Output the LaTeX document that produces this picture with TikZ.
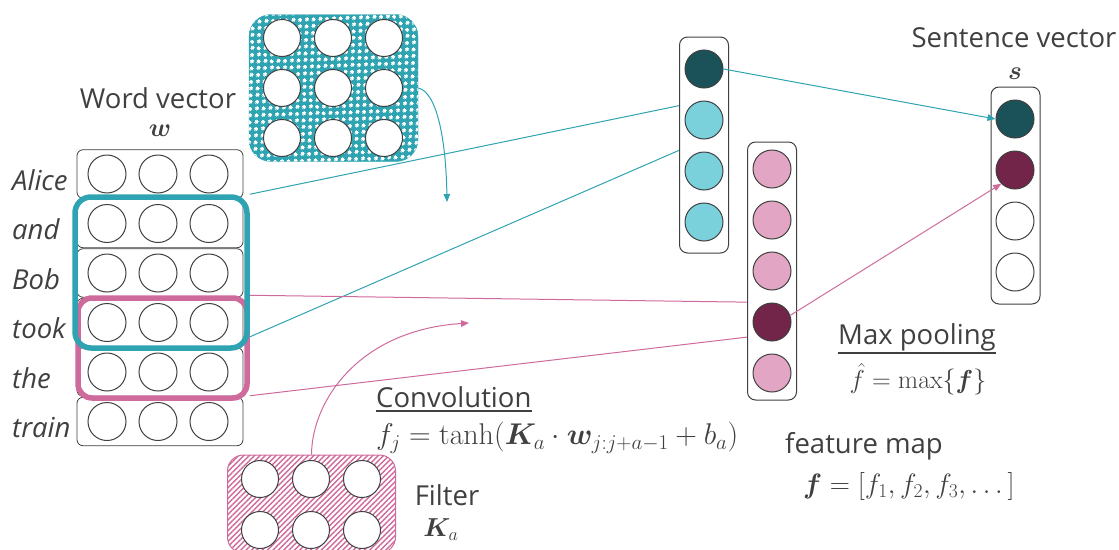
\RequirePackage{fix-cm}
\documentclass[tikz,border=0pt]{standalone}
\usepackage[no-math]{fontspec}
\setmainfont{Open Sans}
\usepackage{amsmath,bm}
\usetikzlibrary{patterns.meta,arrows.meta,calc}

\definecolor{tealline}{HTML}{2EA3B1}
\definecolor{tealdark}{HTML}{1B5259}
\definecolor{teallight}{HTML}{7AD1DC}
\definecolor{pinkline}{HTML}{CF6A9C}
\definecolor{pinklight}{HTML}{E2A6C4}
\definecolor{pinkdark}{HTML}{722548}
\definecolor{edge}{HTML}{404040}
\definecolor{txt}{HTML}{404040}

% diagonal dot lattice used for the word-window filter
\tikzdeclarepattern{
  name=diamonddots,
  type=uncolored,
  bottom left={(0pt,0pt)},
  top right={(9.4pt,9.4pt)},
  tile size={(9.4pt,9.4pt)},
  tile transformation={rotate=45},
  code={
    \fill (2.35pt,2.35pt) circle (2.05pt);
    \fill (7.05pt,7.05pt) circle (2.05pt);
  }
}

\pgfdeclarelayer{background}
\pgfsetlayers{background,main}

\begin{document}
\begin{tikzpicture}[x=1pt,y=-1pt,
  cell/.style={circle, draw=edge, line width=1pt, fill=white, minimum size=38pt, inner sep=0pt},
  rowbox/.style={draw=edge, line width=0.8pt, rounded corners=6pt, fill=white,
                 minimum width=166pt, minimum height=48.5pt, inner sep=0pt},
  colbox/.style={draw=edge, line width=1pt, rounded corners=8pt, fill=white,
                 minimum width=49pt, inner sep=0pt},
  txtlbl/.style={text=txt, font=\fontsize{27.5}{32}\selectfont, inner sep=0pt},
  word/.style={txtlbl, font=\fontsize{27.5}{32}\selectfont\itshape, anchor=base west},
  mathlbl/.style={text=txt, font=\fontsize{26}{30}\selectfont, inner sep=0pt},
  uline/.style={draw=txt, line width=1.2pt},
  tealconn/.style={draw=tealline, line width=1pt},
  pinkconn/.style={draw=pinkline, line width=1pt},
  tip/.style={-{Triangle[length=8pt,width=6.5pt]}},
]
\useasboundingbox (0,0) rectangle (1119,549);

% ---------------- word vectors ----------------
\node[txtlbl] (wvtitle) at (158,98) {Word vector};
\node[mathlbl] (wsym) at (160,131) {$\bm{w}$};
\foreach \i/\w in {0/Alice,1/and,2/Bob,3/took,4/the,5/train} {
  \pgfmathsetmacro\yc{174+49.5*\i}
  \node[rowbox] (r\i) at (160,\yc) {};
  \node[cell] (r\i a) at (107,\yc) {};
  \node[cell] (r\i b) at (158,\yc) {};
  \node[cell] (r\i c) at (209,\yc) {};
  \node[word] (w\i) at (12,\yc+16) {\w};
}

% convolution windows
\node[draw=pinkline, line width=5.5pt, rounded corners=14pt, minimum width=169pt,
      minimum height=100pt, inner sep=0pt] (pinkwin) at (162.5,348) {};
\node[draw=tealline, line width=5.5pt, rounded corners=16pt, minimum width=172pt,
      minimum height=151pt, inner sep=0pt] (tealwin) at (161,272.5) {};

% ---------------- filters ----------------
\node[draw=tealline, fill=tealline, postaction={pattern=diamonddots, pattern color=white},
      rounded corners=22pt, minimum width=169pt, minimum height=147pt, inner sep=0pt]
      (tfilt) at (333.5,88) {};
\foreach \r/\yy in {0/38,1/88,2/138}
  \foreach \c/\xx in {0/282,1/333,2/384}
    \node[cell, minimum size=37pt] (tf\r\c) at (\xx,\yy) {};

\node[draw=pinkline, line width=1pt, fill=white,
      postaction={pattern={Lines[angle=45,distance=3.8pt,line width=1.4pt]}, pattern color=pinkline},
      rounded corners=16pt, minimum width=168pt, minimum height=98pt, inner sep=0pt]
      (pfilt) at (311.5,504) {};
\foreach \r/\yy in {0/479,1/530}
  \foreach \c/\xx in {0/260,1/311,2/362}
    \node[cell, minimum size=37pt] (pf\r\c) at (\xx,\yy) {};

\node[txtlbl] (filtlbl) at (447,495) {Filter};
\node[mathlbl] (ksym) at (441,530) {$\bm{K}_a$};

% ---------------- convolution outputs ----------------
\node[colbox, minimum height=216pt] (cbox) at (704,145) {};
\node[cell, fill=tealdark] (c1) at (704,69) {};
\node[cell, fill=teallight] (c2) at (704,120) {};
\node[cell, fill=teallight] (c3) at (704,171) {};
\node[cell, fill=teallight] (c4) at (704,222) {};

\node[colbox, minimum height=258pt] (fbox) at (772,271) {};
\node[cell, fill=pinklight] (f1) at (772,169) {};
\node[cell, fill=pinklight] (f2) at (772,220) {};
\node[cell, fill=pinklight] (f3) at (772,271) {};
\node[cell, fill=pinkdark] (f4) at (772,322) {};
\node[cell, fill=pinklight] (f5) at (772,373) {};

% ---------------- sentence vector ----------------
\node[txtlbl] (svtitle) at (1014,38) {Sentence vector};
\node[mathlbl] (ssym) at (1015,74) {$\bm{s}$};
\node[colbox, minimum height=217pt] (sbox) at (1015.5,195.5) {};
\node[cell, fill=tealdark] (s1) at (1015,119) {};
\node[cell, fill=pinkdark] (s2) at (1015,170) {};
\node[cell] (s3) at (1015,221) {};
\node[cell] (s4) at (1015,272) {};

% ---------------- formulas ----------------
\node[txtlbl, anchor=base west] (convlbl) at (376,407) {Convolution};
\draw[uline] ($(convlbl.base west)+(0,4)$) -- ($(convlbl.base east)+(0,4)$);
\node[mathlbl, anchor=west, font=\fontsize{30}{35}\selectfont] (convf) at (376,438)
  {$f_j = \tanh(\bm{K}_a \cdot \bm{w}_{j:j+a-1} + b_a)$};
\node[txtlbl, anchor=base west] (poollbl) at (838,344) {Max pooling};
\draw[uline] ($(poollbl.base west)+(0,9)$) -- ($(poollbl.base east)+(0,9)$);
\node[mathlbl] (poolf) at (918,379) {$\hat{f} = \max\{\bm{f}\}$};
\node[txtlbl, anchor=west] (fmlbl) at (785,446) {feature map};
\node[mathlbl, anchor=west, font=\fontsize{28}{33}\selectfont] (fmf) at (803,486)
  {$\bm{f} = [f_1, f_2, f_3, \dots]$};

% ---------------- connectors ----------------
\coordinate (tend) at (447,202);
\coordinate (pend) at (469,323);
\begin{pgfonlayer}{background}
  \draw[tealconn] (tealwin.north east) -- (c2.north);
  \draw[tealconn] ($(tealwin.south east)+(-2,-13)$) -- (c2.south);
  \draw[pinkconn] (pinkwin.north east) -- (f4.north);
  \draw[pinkconn] ($(pinkwin.south east)+(0,-5)$) -- (f4.south west);
\end{pgfonlayer}
\draw[tealconn, tip] (tfilt.east) .. controls (437,92) and (446,140) .. (tend);
\draw[pinkconn, tip] (pfilt.north) .. controls (312,400) and (360,330) .. (pend);
\draw[tealconn, tip] (c1.east) -- (s1.west);
\draw[pinkconn, tip] (f4.20) -- (s2.south west);
\end{tikzpicture}
\end{document}
